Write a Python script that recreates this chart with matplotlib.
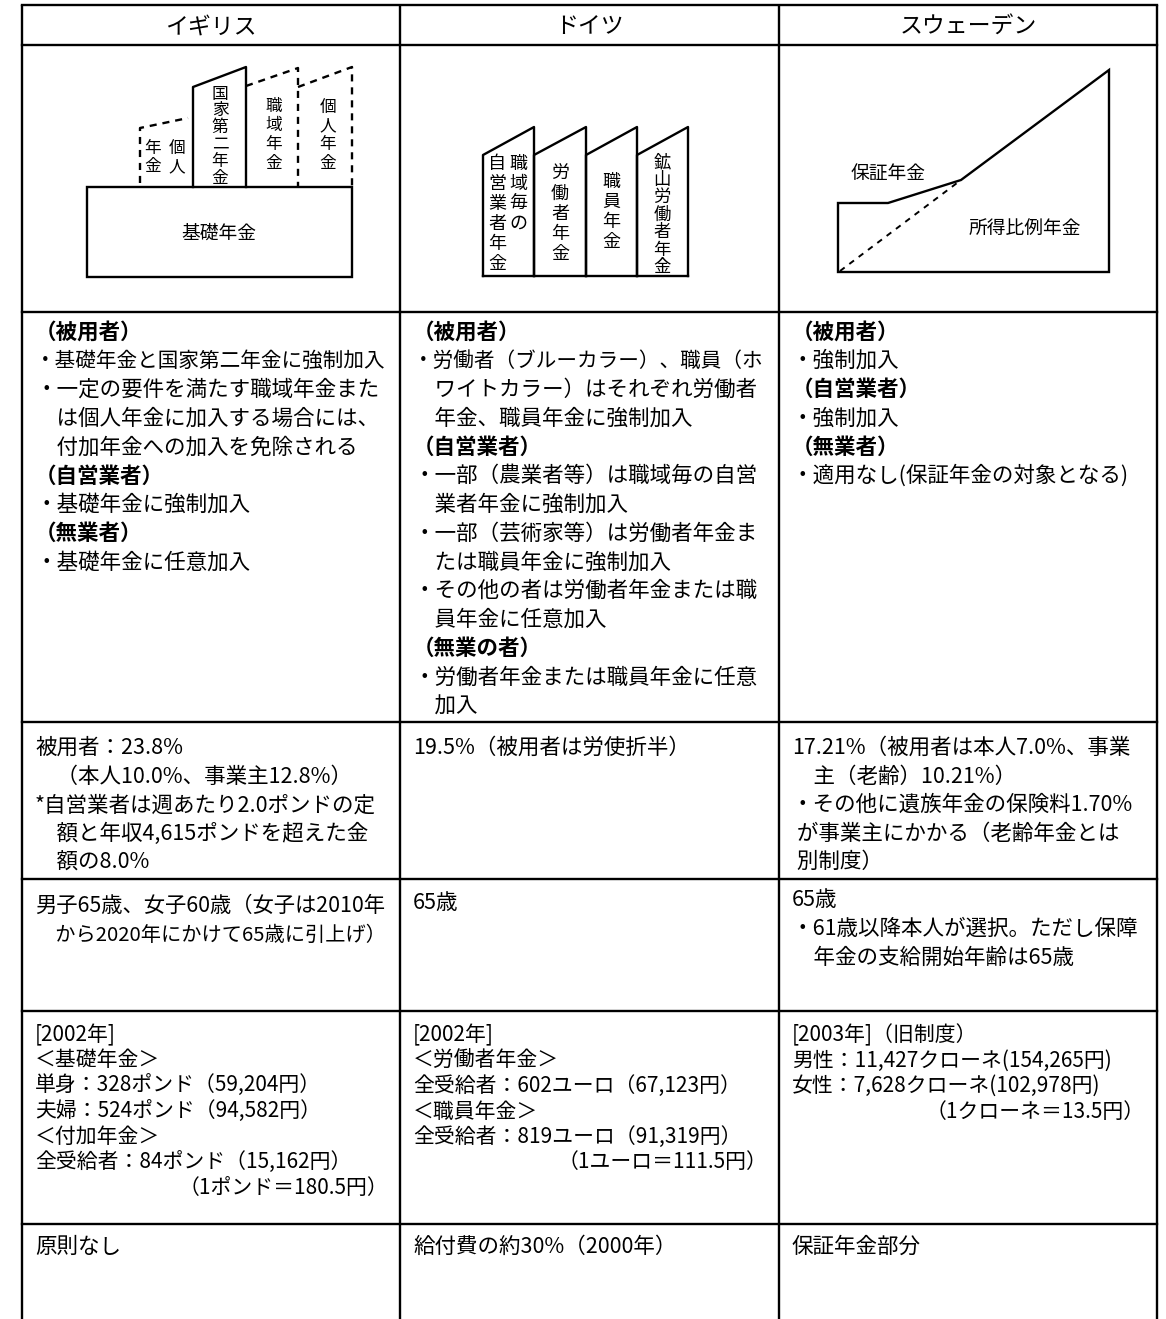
import matplotlib
matplotlib.use('Agg')
import matplotlib.pyplot as plt
from matplotlib.patches import Polygon

plt.rcParams['font.family'] = ['Noto Sans CJK JP', 'DejaVu Sans']

# ---------------- data ----------------
headers = ["イギリス", "ドイツ", "スウェーデン"]

bold_labels = ["（被用者）", "（自営業者）", "（無業者）", "（無業の者）"]

coverage_uk = ["（被用者）",
               "・基礎年金と国家第二年金に強制加入",
               "・一定の要件を満たす職域年金また",
               "　は個人年金に加入する場合には、",
               "　付加年金への加入を免除される",
               "（自営業者）",
               "・基礎年金に強制加入",
               "（無業者）",
               "・基礎年金に任意加入"]
coverage_de = ["（被用者）",
               "・労働者（ブルーカラー）、職員（ホ",
               "　ワイトカラー）はそれぞれ労働者",
               "　年金、職員年金に強制加入",
               "（自営業者）",
               "・一部（農業者等）は職域毎の自営",
               "　業者年金に強制加入",
               "・一部（芸術家等）は労働者年金ま",
               "　たは職員年金に強制加入",
               "・その他の者は労働者年金または職",
               "　員年金に任意加入",
               "（無業の者）",
               "・労働者年金または職員年金に任意",
               "　加入"]
coverage_se = ["（被用者）",
               "・強制加入",
               "（自営業者）",
               "・強制加入",
               "（無業者）",
               "・適用なし(保証年金の対象となる)"]

contribution_uk = ["被用者：23.8%",
                   "　（本人10.0%、事業主12.8%）",
                   "*自営業者は週あたり2.0ポンドの定",
                   "　額と年収4,615ポンドを超えた金",
                   "　額の8.0%"]
contribution_de = ["19.5%（被用者は労使折半）"]
contribution_se = ["17.21%（被用者は本人7.0%、事業",
                   "　主（老齢）10.21%）",
                   "・その他に遺族年金の保険料1.70%",
                   " が事業主にかかる（老齢年金とは",
                   " 別制度）"]

age_uk = ["男子65歳、女子60歳（女子は2010年",
          "　から2020年にかけて65歳に引上げ）"]
age_de = ["65歳"]
age_se = ["65歳",
          "・61歳以降本人が選択。ただし保障",
          "　年金の支給開始年齢は65歳"]

benefit_uk = ["[2002年]",
              "＜基礎年金＞",
              "単身：328ポンド（59,204円）",
              "夫婦：524ポンド（94,582円）",
              "＜付加年金＞",
              "全受給者：84ポンド（15,162円）"]
benefit_de = ["[2002年]",
              "＜労働者年金＞",
              "全受給者：602ユーロ（67,123円）",
              "＜職員年金＞",
              "全受給者：819ユーロ（91,319円）"]
benefit_se = ["[2003年]（旧制度）",
              "男性：11,427クローネ(154,265円)",
              "女性：7,628クローネ(102,978円)"]
exchange_notes = ["（1ポンド＝180.5円）", "（1ユーロ＝111.5円）", "（1クローネ＝13.5円）"]

subsidy = ["原則なし", "給付費の約30%（2000年）", "保証年金部分"]

# diagram labels
uk_base_label = "基礎年金"
uk_columns = ["国家第二年金", "職域年金", "個人年金"]
uk_small_cols = ["個人", "年金"]
de_columns = [["職域毎の", "自営業者年金"], ["労働者年金"], ["職員年金"], ["鉱山労働者年金"]]
se_labels = ["保証年金", "所得比例年金"]

# ---------------- layout ----------------
W, H = 1166, 1319
col_x = [22, 400, 779, 1157]
row_y = [5, 45, 312, 722, 879, 1011, 1224]

fig = plt.figure(figsize=(W / 100, H / 100), dpi=100)
ax = fig.add_axes([0, 0, 1, 1])
ax.set_xlim(0, W)
ax.set_ylim(H, 0)
ax.axis('off')
renderer = fig.canvas.get_renderer()

LW = 1.7
# grid lines
for x in col_x:
    ax.plot([x, x], [row_y[0], H], color='black', lw=LW, solid_capstyle='butt')
for y in row_y:
    ax.plot([col_x[0], col_x[-1]], [y, y], color='black', lw=LW)

# headers
for i, h in enumerate(headers):
    ax.text((col_x[i] + col_x[i + 1]) / 2, 27, h, ha='center', va='center', fontsize=16.5)

FS = 15.5
MAXW = 350


def fit(t, fs):
    w = t.get_window_extent(renderer).width
    if w > MAXW:
        t.set_fontsize(fs * MAXW / w)


def draw_lines(lines, ci, y0, step, fs=FS):
    x0 = col_x[ci] + 13
    for k, s in enumerate(lines):
        t = ax.text(x0, y0 + k * step, s, ha='left', va='center', fontsize=fs,
                    fontweight='bold' if s in bold_labels else 'normal')
        fit(t, fs)


for ci, lines in enumerate([coverage_uk, coverage_de, coverage_se]):
    draw_lines(lines, ci, 332, 28.8)
for ci, lines in enumerate([contribution_uk, contribution_de, contribution_se]):
    draw_lines(lines, ci, 748, 28.6)
age_start = [906, 903, 900]
for ci, lines in enumerate([age_uk, age_de, age_se]):
    draw_lines(lines, ci, age_start[ci], 29)
BSTEP = 25.5
for ci, lines in enumerate([benefit_uk, benefit_de, benefit_se]):
    draw_lines(lines, ci, 1035, BSTEP, fs=15)
    ax.text(col_x[ci + 1] - 12, 1035 + len(lines) * BSTEP, exchange_notes[ci],
            ha='right', va='center', fontsize=15)
for ci, s in enumerate(subsidy):
    draw_lines([s], ci, 1247, 29)


def vtext(x, ytop, s, step, fs):
    for k, ch in enumerate(s):
        ax.text(x, ytop + k * step, ch, ha='center', va='center', fontsize=fs)


DASH = (0, (3, 2.5))
# ---------------- UK diagram ----------------
ax.add_patch(Polygon([[87, 187], [352, 187], [352, 277], [87, 277]], closed=True,
                     fill=False, ec='black', lw=LW))
ax.text(219, 233, uk_base_label, ha='center', va='center', fontsize=13.5)
# 国家第二年金 (solid)
ax.plot([193, 193, 246, 246], [187, 87, 67, 187], color='black', lw=LW)
vtext(220, 94, uk_columns[0], 16.8, 12)
# 職域年金 (dashed)
ax.plot([246, 298, 298], [86, 68, 187], color='black', lw=LW, ls=DASH)
vtext(274, 107, uk_columns[1], 18.7, 12)
# 個人年金 right (dashed)
ax.plot([298, 352, 352], [87, 67, 187], color='black', lw=LW, ls=DASH)
vtext(328, 107, uk_columns[2], 18.7, 12)
# 個人年金 left (dashed)
ax.plot([140, 140, 188], [183, 128, 118], color='black', lw=LW, ls=DASH)
vtext(177, 148, uk_small_cols[0], 19, 12)
vtext(153, 148, uk_small_cols[1], 19, 12)

# ---------------- Germany diagram ----------------
de_x = [483, 534, 586, 637, 688]
de_bottom, de_top, de_low = 276, 127, 155
ax.plot([de_x[0], de_x[-1]], [de_bottom, de_bottom], color='black', lw=LW)
for k in range(4):
    xl, xr = de_x[k], de_x[k + 1]
    ax.plot([xl, xl, xr, xr], [de_bottom, de_low, de_top, de_bottom], color='black', lw=LW)
# labels
vtext(518, 164, de_columns[0][0], 20, 13)
vtext(497, 164, de_columns[0][1], 20, 13)
vtext(560, 174, de_columns[1][0], 20, 13)
vtext(611, 182, de_columns[2][0], 20, 13)
vtext(662, 162, de_columns[3][0], 17.5, 12.5)

# ---------------- Sweden diagram ----------------
se_poly = [[838, 272], [838, 203], [888, 203], [961, 180], [1109, 70], [1109, 272]]
ax.add_patch(Polygon(se_poly, closed=True, fill=False, ec='black', lw=LW, joinstyle='miter'))
ax.plot([840, 961], [271, 180], color='black', lw=1.4, ls=(0, (3, 3)))
ax.text(888, 173, se_labels[0], ha='center', va='center', fontsize=13.5)
ax.text(1025, 228, se_labels[1], ha='center', va='center', fontsize=13.5)

fig.savefig('out.png', dpi=100, facecolor='white')
